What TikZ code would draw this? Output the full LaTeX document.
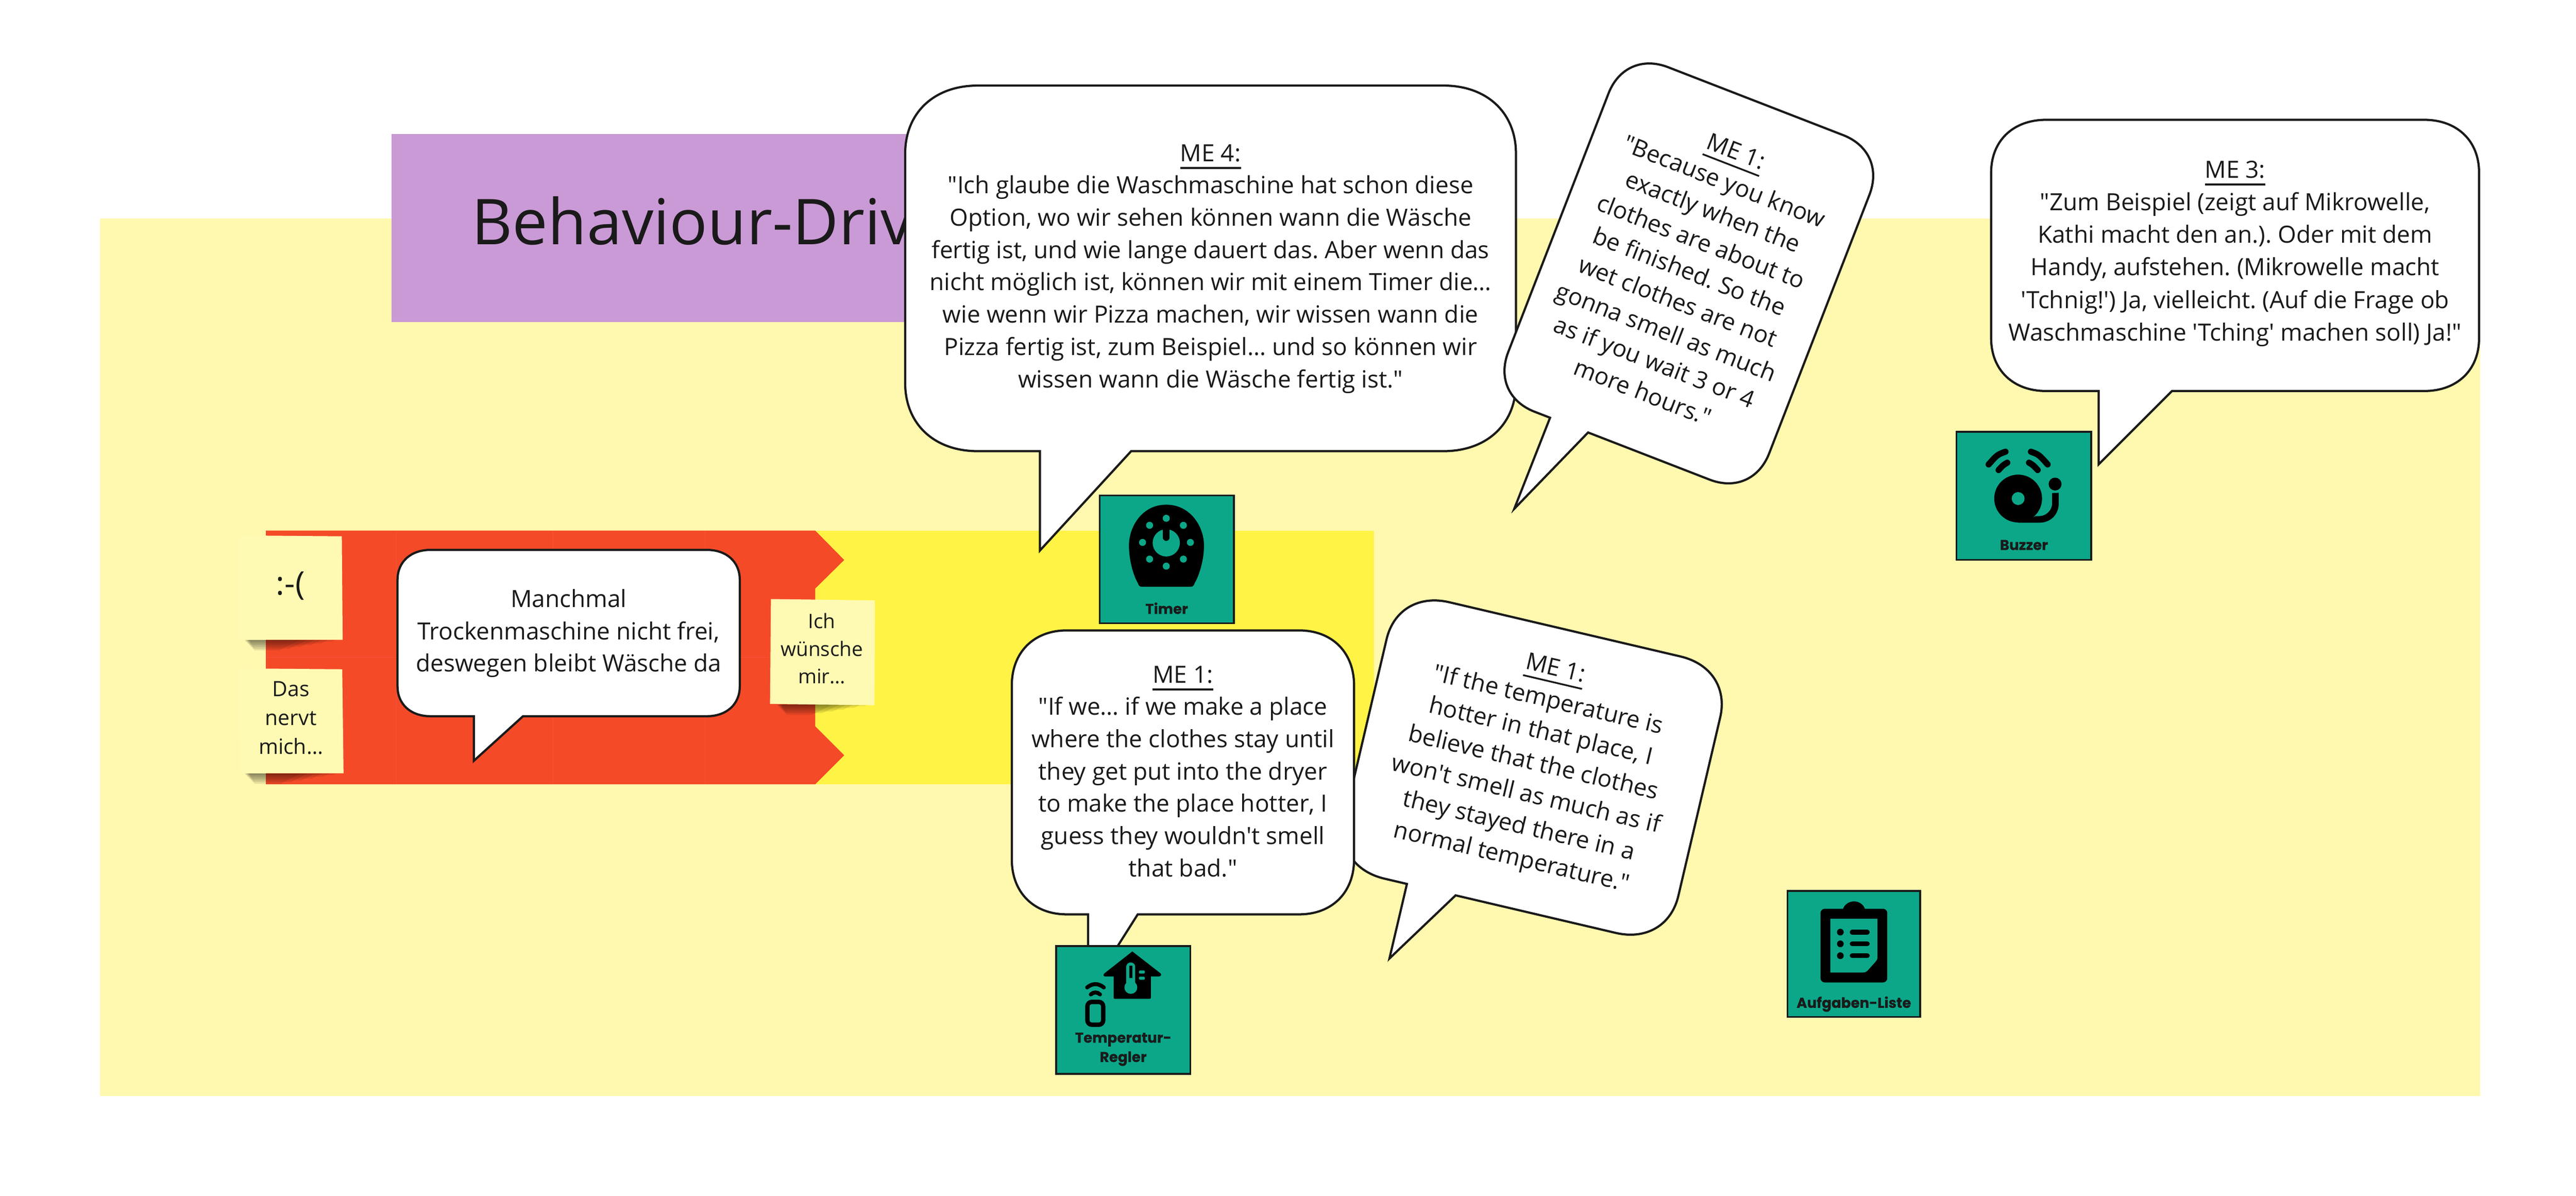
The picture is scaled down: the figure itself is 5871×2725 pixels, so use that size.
\documentclass[tikz,border=0pt]{standalone}
\usepackage{fontspec}
\setmainfont{Open Sans}[Ligatures=TeXOff]
\newfontfamily\lblfont{Poppins}[BoldFeatures={FakeBold=0.6}]
\definecolor{ink}{HTML}{1A1A1A}
\definecolor{palebg}{HTML}{FFF8AF}
\definecolor{bandred}{HTML}{F44A28}
\definecolor{bandseam}{HTML}{F5533A}
\definecolor{bandyellow}{HTML}{FFF345}
\definecolor{sticky}{HTML}{FFFAB3}
\definecolor{titlepurple}{HTML}{CA9AD6}
\definecolor{boxgreen}{HTML}{0CA789}
\tikzset{
  bubbleline/.style={draw=ink,fill=white,line width=0.5pt,line join=miter},
  bubbletext/.style={inner sep=0pt,align=center,text=ink,font=\fontsize{5.4}{7.36}\selectfont\frenchspacing},
  stickytext/.style={inner sep=0pt,align=center,text=ink,font=\fontsize{4.7}{6.3}\selectfont},
  notefill/.style={fill=sticky,draw=none},
  greenbox/.style={fill=boxgreen,draw=ink,line width=0.4pt},
  boxlabel/.style={inner sep=0pt,align=center,text=ink,font=\lblfont\bfseries\fontsize{3.25}{4.4}\selectfont},
  iconink/.style={fill=black,draw=none},
  iconcut/.style={fill=boxgreen,draw=none},
  iconstroke/.style={draw=black,line cap=round,fill=none},
  seam/.style={draw=bandseam,line width=0.1pt},
}
% width height rx ry tailleft tailright tipx tipy (local, centred on origin)
\newcommand{\speechshape}[8]{%
  \pgfmathsetmacro{\hw}{#1/2}\pgfmathsetmacro{\hh}{#2/2}%
  \pgfmathsetmacro{\ax}{\hw-#3}\pgfmathsetmacro{\ay}{\hh-#4}%
  \pgfmathsetmacro{\cx}{\hw-0.4*#3}\pgfmathsetmacro{\cy}{\hh-0.4*#4}%
  \draw[bubbleline] (-\ax,-\hh) -- (\ax,-\hh)
    .. controls (\cx,-\hh) and (\hw,-\cy) .. (\hw,-\ay) -- (\hw,\ay)
    .. controls (\hw,\cy) and (\cx,\hh) .. (\ax,\hh)
    -- (#6,\hh) -- (#7,#8) -- (#5,\hh) -- (-\ax,\hh)
    .. controls (-\cx,\hh) and (-\hw,\cy) .. (-\hw,\ay) -- (-\hw,-\ay)
    .. controls (-\hw,-\cy) and (-\cx,-\hh) .. (-\ax,-\hh) -- cycle;}
\newcommand{\noteshadow}[3]{%
  \foreach \h in {4,8,12,16,20,24}{%
    \fill[black,opacity=0.09] ({#1+12+\h/2},#3) -- ({#2-4*\h},#3) -- ({#2-6*\h},{#3+\h}) -- ({#1+12+\h},{#3+\h}) -- cycle;}}
\begin{document}
\begin{tikzpicture}[x=0.1pt,y=-0.1pt]
\useasboundingbox (0,0) rectangle (5871,2725);
\fill[white] (0,0) rectangle (5871,2725);
% backdrop
\fill[palebg] (228,498) rectangle (5653,2497);
% title
\fill[titlepurple] (892,305) rectangle (2700,734);
\node[anchor=base west,inner sep=0pt,text=ink,font=\fontsize{14.4}{18}\selectfont] (title) at (1073,557) {Behaviour-Driv};
% bands
\fill[bandyellow] (1858,1209) rectangle (3132,1787);
\fill[bandred] (606,1209) -- (1858,1209) -- (1924,1276) -- (1858,1341) -- (1858,1655) -- (1924,1721) -- (1858,1787) -- (606,1787) -- cycle;
\draw[seam] (903,1209) -- (903,1787);
\draw[seam] (1260,1209) -- (1260,1787);
\draw[seam] (1607,1209) -- (1607,1787);
\draw[seam] (606,1498) -- (903,1498);
\draw[seam] (1607,1498) -- (1858,1498);
% stickies
\noteshadow{544}{780}{1458}
\fill[notefill] (544,1220) -- (779,1222) -- (781,1458) -- (545,1458) -- cycle;
\node[stickytext,font=\fontsize{7.4}{9}\selectfont] (sad) at (662,1335) {:-(};
\noteshadow{544}{783}{1762}
\fill[notefill] (544,1523) -- (780,1525) -- (783,1762) -- (546,1762) -- cycle;
\node[stickytext,font=\fontsize{4.8}{6.6}\selectfont] (nervt) at (663,1636) {Das\\nervt\\mich…};
\noteshadow{1757}{1994}{1605}
\fill[notefill] (1757,1365) -- (1994,1368) -- (1993,1607) -- (1755,1604) -- cycle;
\node[stickytext,font=\fontsize{4.55}{6.25}\selectfont] (wish) at (1873,1478) {Ich\\wünsche\\mir…};
% bubble: Manchmal
\begin{scope}[shift={(1296,1442.5)}]
\speechshape{780}{379}{75}{68}{-216}{-104}{-216}{291}
\node[bubbletext] (manchmal) at (0,1) {Manchmal\\Trockenmaschine nicht frei,\\deswegen bleibt Wäsche da};
\end{scope}
% bubble: ME 4
\begin{scope}[shift={(2759,611.5)}]
\speechshape{1392}{833}{165}{155}{-389}{-181}{-389}{643}
\node[bubbletext] (mefour) at (0,1) {\underline{ME 4:}\\"Ich glaube die Waschmaschine hat schon diese\\Option, wo wir sehen können wann die Wäsche\\fertig ist, und wie lange dauert das. Aber wenn das\\nicht möglich ist, können wir mit einem Timer die…\\wie wenn wir Pizza machen, wir wissen wann die\\Pizza fertig ist, zum Beispiel… und so können wir\\wissen wann die Wäsche fertig ist."};
\end{scope}
% bubble: ME 1 top (rotated)
\begin{scope}[shift={(3849,623)},rotate=-21.2]
\speechshape{638}{842}{105}{105}{-176}{-83}{-177}{644}
\node[bubbletext,transform shape] (meonea) at (0,-4) {\underline{ME 1:}\\"Because you know\\exactly when the\\clothes are about to\\be finished. So the\\wet clothes are not\\gonna smell as much\\as if you wait 3 or 4\\more hours."};
\end{scope}
% bubble: ME 3
\begin{scope}[shift={(5094,582)}]
\speechshape{1112}{618}{125}{120}{-311}{-144}{-311}{476}
\node[bubbletext,font=\fontsize{5.4}{7.42}\selectfont\frenchspacing] (methree) at (0,-4) {\underline{ME 3:}\\"Zum Beispiel (zeigt auf Mikrowelle,\\Kathi macht den an.). Oder mit dem\\Handy, aufstehen. (Mikrowelle macht\\'Tchnig!') Ja, vielleicht. (Auf die Frage ob\\Waschmaschine 'Tching' machen soll) Ja!"};
\end{scope}
% bubble: ME 1 right (rotated)
\begin{scope}[shift={(3492.6,1749)},rotate=-13.2]
\speechshape{781}{647}{120}{115}{-218}{-104}{-218}{498}
\node[bubbletext,transform shape] (meoneb) at (0,-7) {\underline{ME 1:}\\"If the temperature is\\hotter in that place, I\\believe that the clothes\\won't smell as much as if\\they stayed there in a\\normal temperature."};
\end{scope}
% bubble: ME 1 left
\begin{scope}[shift={(2696,1760)}]
\speechshape{780}{647}{125}{125}{-216}{-103}{-216}{502}
\node[bubbletext] (meonec) at (0,-2) {\underline{ME 1:}\\"If we… if we make a place\\where the clothes stay until\\they get put into the dryer\\to make the place hotter, I\\guess they wouldn't smell\\that bad."};
\end{scope}
% Timer card
\draw[greenbox] (2506,1129) rectangle (2812,1420);
\fill[iconink] (2658,1150) .. controls (2603,1150) and (2573,1200) .. (2573,1243) .. controls (2573,1280) and (2585,1315) .. (2593,1328) .. controls (2595,1335) and (2598,1337) .. (2602,1337) -- (2714,1337) .. controls (2718,1337) and (2721,1335) .. (2723,1328) .. controls (2731,1315) and (2744,1280) .. (2744,1243) .. controls (2744,1200) and (2713,1150) .. (2658,1150) -- cycle;
\foreach \dx/\dy in {2658/1181,2658/1290,2604/1236,2713/1236,2620/1197,2697/1197,2620/1274,2697/1274}{\fill[iconcut] (\dx,\dy) circle[radius=8];}
\fill[iconcut] (2658,1237) circle[radius=31];
\draw[iconstroke,line width=1.5pt] (2658,1205) -- (2658,1225);
\node[boxlabel] (timer) at (2659,1386) {Timer};
% Buzzer card
\draw[greenbox] (4459,984) rectangle (4766,1276);
\fill[iconink] (4599.5,1136) circle[radius=54.5];
\fill[iconink] (4599.5,1191) -- (4648,1191) .. controls (4673,1191) and (4692,1173) .. (4692,1147) -- (4692,1123) -- (4677,1123.5) -- (4677,1147) .. controls (4677,1163) and (4663,1176) .. (4648,1176) -- (4640,1176) -- cycle;
\fill[iconcut] (4599.5,1136) circle[radius=14.7];
\fill[iconink] (4683.7,1103) circle[radius=14.7];
\draw[iconstroke,line width=1.4pt] (4570.7,1029.3) .. controls (4552,1036) .. (4532.3,1058.3);
\draw[iconstroke,line width=1.4pt] (4574.7,1054.3) .. controls (4565,1060) .. (4555,1071);
\draw[iconstroke,line width=1.4pt] (4628.7,1029.3) .. controls (4647,1036) .. (4666.7,1058.3);
\draw[iconstroke,line width=1.4pt] (4624.3,1054.3) .. controls (4634,1060) .. (4644,1071);
\node[boxlabel] (buzzer) at (4612.7,1242) {Buzzer};
% Temperature card
\draw[greenbox] (2407,2156) rectangle (2713,2447);
\fill[iconink] (2580.7,2168) -- (2645,2218) .. controls (2648,2222) and (2645,2225) .. (2642,2225) -- (2623,2225) -- (2623,2273) .. controls (2623,2275) and (2622,2276) .. (2620,2276) -- (2541,2276) .. controls (2539,2276) and (2538,2275) .. (2538,2273) -- (2538,2225) -- (2519,2225) .. controls (2516,2225) and (2513,2222) .. (2517,2218) -- cycle;
\fill[iconcut] (2566.7,2203.3) arc[start angle=180,end angle=360,radius=10.3] -- (2587.3,2240) -- (2566.7,2240) -- cycle;
\fill[iconcut] (2577.3,2250) circle[radius=14.7];
\draw[black,line width=0.67pt] (2577,2200) -- (2577,2229);
\fill[iconcut,rounded corners=0.2pt] (2595.7,2211.5) rectangle (2609.3,2218.5);
\fill[iconcut,rounded corners=0.2pt] (2595.7,2225.5) rectangle (2609.3,2232.5);
\draw[black,line width=1pt,rounded corners=1pt,fill=none] (2478.3,2283) rectangle (2514.3,2335);
\draw[iconstroke,line width=0.9pt] (2477.7,2250) .. controls (2490,2240) and (2503,2240) .. (2515.7,2250);
\draw[iconstroke,line width=0.9pt] (2486,2266) .. controls (2492,2260) and (2501,2260) .. (2507,2266);
\node[boxlabel] (temp) at (2560,2391) {Temperatur-\\Regler};
% Tasks card
\draw[greenbox] (4074,2030) rectangle (4376,2317);
\fill[iconink,rounded corners=1pt] (4149,2070.7) rectangle (4301.3,2238.7);
\fill[iconink] (4200,2072) .. controls (4208,2048) and (4243,2048) .. (4250.7,2072) -- cycle;
\fill[iconcut] (4171.3,2093.7) -- (4279,2093.7) -- (4279,2180) .. controls (4279,2186) and (4277,2189) .. (4274,2192) -- (4256,2212) .. controls (4253,2215) and (4250,2216) .. (4246,2216) -- (4171.3,2216) -- cycle;
\foreach \ly in {2124,2150.7,2177.7}{
  \fill[iconink] (4194.3,\ly) circle[radius=7.7];
  \draw[iconstroke,line width=1.13pt] (4221.4,\ly) -- (4255.6,\ly);}
\node[boxlabel] (tasks) at (4225,2288) {Aufgaben-Liste};
\end{tikzpicture}
\end{document}
